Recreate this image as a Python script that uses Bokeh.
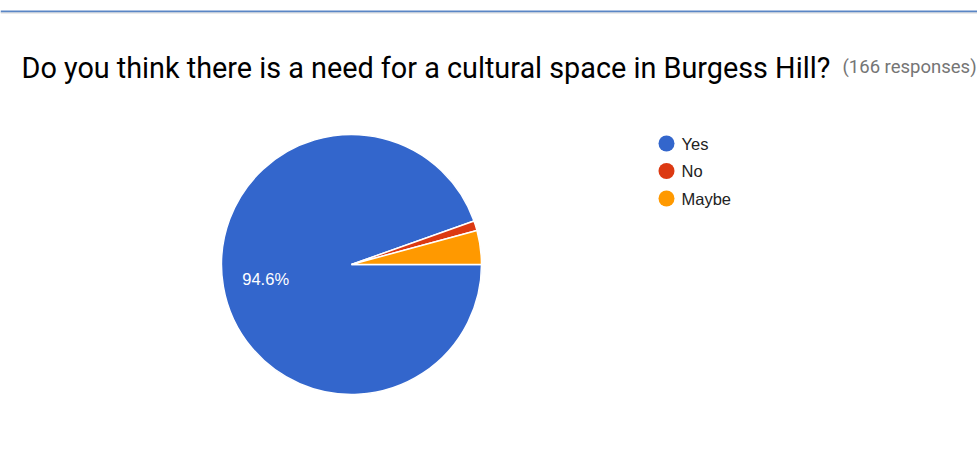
import math
from bokeh.plotting import figure
from bokeh.models import Range1d
from bokeh.core.properties import value
from bokeh.embed import file_html
from bokeh.resources import INLINE

# Data
categories = ["Yes", "No", "Maybe"]
counts = [157, 2, 7]
colors = ["#3366cc", "#dc3912", "#ff9900"]
title_text = "Do you think there is a need for a cultural space in Burgess Hill?"
subtitle_text = "(166 responses)"

W, H = 977, 459
def Y(py):
    return H - py

p = figure(width=W, height=H, x_range=Range1d(0, W), y_range=Range1d(0, H),
           output_backend="svg", toolbar_location=None, min_border=0)
p.axis.visible = False
p.grid.visible = False
p.outline_line_color = None
p.background_fill_color = "white"

# top border line
p.segment(x0=[0], y0=[Y(11)], x1=[W], y1=[Y(11)], line_color="#5a86c5", line_width=2)
p.segment(x0=[0], y0=[Y(12.5)], x1=[W], y1=[Y(12.5)], line_color="#d8d8d8", line_width=1)

# title
p.text(x=[21], y=[Y(67)], text=[title_text], text_font=value("Roboto"),
       text_font_size="28.8px", text_color="#000000", text_baseline="alphabetic")
p.text(x=[842], y=[Y(66)], text=[subtitle_text], text_font=value("Roboto"),
       text_font_size="18.5px", text_color="#757575", text_baseline="alphabetic")

# pie
cx, cy, r = 351, Y(264), 130
total = sum(counts)
cum = 0
starts, ends, mids = [], [], []
for c in counts:
    a0 = -2 * math.pi * cum / total
    cum += c
    a1 = -2 * math.pi * cum / total
    starts.append(a1)
    ends.append(a0)
    mids.append((a0 + a1) / 2)

p.wedge(x=[cx] * len(counts), y=[cy] * len(counts), radius=r,
        start_angle=starts, end_angle=ends, direction="anticlock",
        fill_color=colors, line_color="white", line_width=1.5)

# percentage label for the large slice
pct = [100.0 * c / total for c in counts]
lx = [cx + 0.67 * r * math.cos(m) for m in mids]
ly = [cy + 0.67 * r * math.sin(m) for m in mids]
lab_idx = [i for i in range(len(counts)) if pct[i] > 10]
p.text(x=[lx[i] for i in lab_idx], y=[ly[i] for i in lab_idx],
       text=["%.1f%%" % pct[i] for i in lab_idx], text_font=value("Liberation Sans"),
       text_font_size="16.5px", text_color="white", text_align="center",
       text_baseline="middle")

# legend
leg_y = [Y(143 + 27.5 * i) for i in range(len(categories))]
p.scatter(x=[666] * len(categories), y=leg_y, size=16, fill_color=colors,
          line_color=None, marker="circle")
p.text(x=[681] * len(categories), y=leg_y, text=categories,
       text_font=value("Liberation Sans"), text_font_size="16.5px",
       text_color="#222222", text_baseline="middle")

open("out.html", "w").write(file_html(p, INLINE))
